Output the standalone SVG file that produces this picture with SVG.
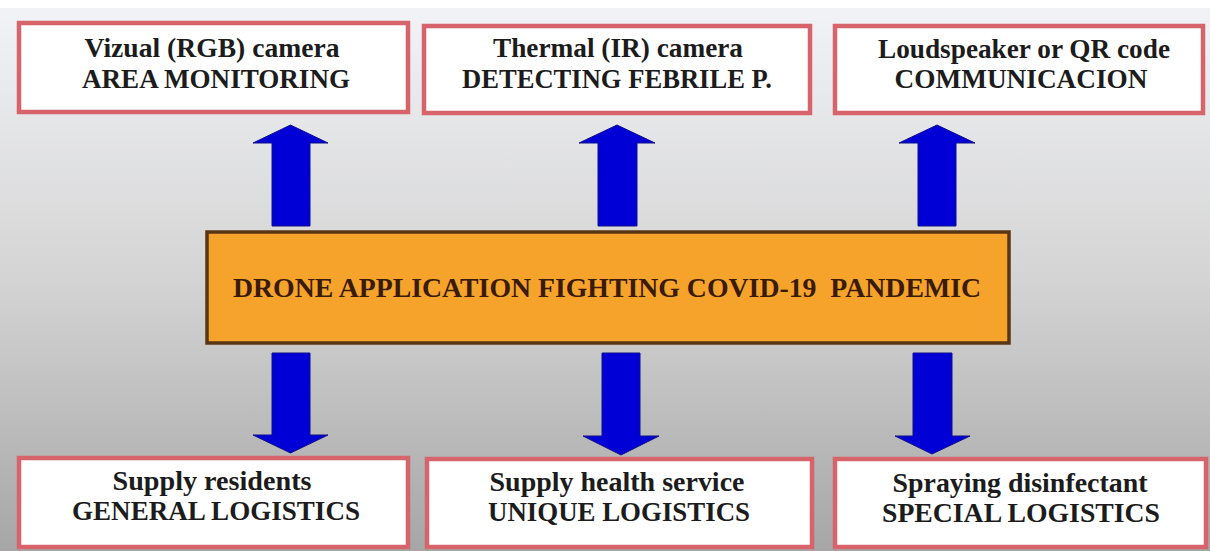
<svg xmlns="http://www.w3.org/2000/svg" width="1210" height="551" viewBox="0 0 1210 551">
  <defs>
    <linearGradient id="bg" x1="0" y1="0" x2="0" y2="1">
      <stop offset="0" stop-color="#f2f3f7"/>
      <stop offset="0.5" stop-color="#d4d4d4"/>
      <stop offset="1" stop-color="#a6a6a6"/>
    </linearGradient>
  </defs>
  <style>
    .box { fill: #ffffff; stroke: #d8646b; stroke-width: 4.5; }
    .core { fill: #f5a32a; stroke: #5a3515; stroke-width: 3.5; }
    .t { font-family: "Liberation Serif", "Times New Roman", serif; font-weight: bold; font-size: 27px; fill: #1c1c1c; text-anchor: middle; }
    .ct { font-family: "Liberation Serif", "Times New Roman", serif; font-weight: bold; font-size: 27px; fill: #3a1a08; text-anchor: middle; white-space: pre; }
    .arrow { fill: #0000d6; stroke: #10108a; stroke-width: 1; }
  </style>
  <rect x="0" y="0" width="1210" height="551" fill="#ffffff"/>
  <rect x="0" y="8" width="1210" height="543" fill="url(#bg)"/>

  <g id="connectors">
    <path class="arrow" d="M272,226 L272,143 L253,143 L290.5,125 L328,143 L310,143 L310,226 Z"/>
    <path class="arrow" d="M598,226 L598,143 L579,143 L617,125 L655,143 L637,143 L637,226 Z"/>
    <path class="arrow" d="M918,226 L918,143 L899,143 L937,125 L975,143 L956,143 L956,226 Z"/>
    <path class="arrow" d="M272,353 L310,353 L310,435 L328,435 L290.5,453 L253,435 L272,435 Z"/>
    <path class="arrow" d="M602,353 L640,353 L640,436 L659,436 L621,455 L583,436 L602,436 Z"/>
    <path class="arrow" d="M913,353 L952,353 L952,436 L970,436 L932,454 L895,436 L913,436 Z"/>
  </g>

  <g id="core">
    <rect class="core" x="207" y="232" width="802" height="111"/>
    <text class="ct" x="607" y="297" textLength="748" lengthAdjust="spacingAndGlyphs">DRONE APPLICATION FIGHTING COVID-19&#160; PANDEMIC</text>
  </g>

  <g id="rgb">
    <rect class="box" x="19" y="23" width="389" height="89"/>
    <text class="t" x="212" y="57" textLength="255" lengthAdjust="spacingAndGlyphs">Vizual (RGB) camera</text>
    <text class="t" x="216" y="88" textLength="268" lengthAdjust="spacingAndGlyphs">AREA MONITORING</text>
  </g>
  <g id="thermal">
    <rect class="box" x="424" y="26" width="386" height="87"/>
    <text class="t" x="618" y="57" textLength="250" lengthAdjust="spacingAndGlyphs">Thermal (IR) camera</text>
    <text class="t" x="617" y="88" textLength="310" lengthAdjust="spacingAndGlyphs">DETECTING FEBRILE P.</text>
  </g>
  <g id="speaker">
    <rect class="box" x="835" y="26" width="368" height="87"/>
    <text class="t" x="1024" y="58" textLength="292" lengthAdjust="spacingAndGlyphs">Loudspeaker or QR code</text>
    <text class="t" x="1021" y="88" textLength="253" lengthAdjust="spacingAndGlyphs">COMMUNICACION</text>
  </g>
  <g id="residents">
    <rect class="box" x="19" y="458" width="389" height="89"/>
    <text class="t" x="212" y="490" textLength="199" lengthAdjust="spacingAndGlyphs">Supply residents</text>
    <text class="t" x="216" y="520" textLength="288" lengthAdjust="spacingAndGlyphs">GENERAL LOGISTICS</text>
  </g>
  <g id="health">
    <rect class="box" x="427" y="459" width="385" height="88"/>
    <text class="t" x="617" y="491" textLength="255" lengthAdjust="spacingAndGlyphs">Supply health service</text>
    <text class="t" x="619" y="521" textLength="262" lengthAdjust="spacingAndGlyphs">UNIQUE LOGISTICS</text>
  </g>
  <g id="spraying">
    <rect class="box" x="835" y="459" width="371" height="88"/>
    <text class="t" x="1020" y="492" textLength="255" lengthAdjust="spacingAndGlyphs">Spraying disinfectant</text>
    <text class="t" x="1021" y="522" textLength="278" lengthAdjust="spacingAndGlyphs">SPECIAL LOGISTICS</text>
  </g>
</svg>
